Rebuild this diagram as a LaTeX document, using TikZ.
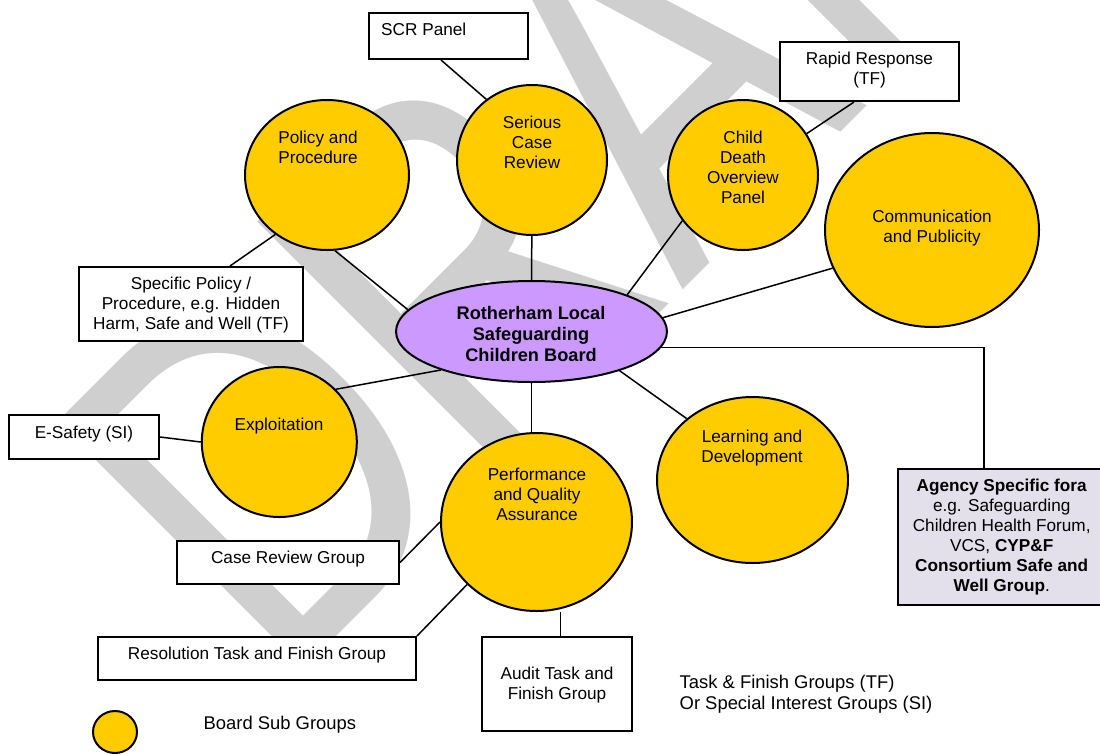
\documentclass[tikz,border=0pt]{standalone}
\usepackage{graphicx}
\usepackage{fontspec}
\setmainfont{Liberation Sans}
\usetikzlibrary{shapes.geometric}
\definecolor{subyellow}{HTML}{FFCC00}
\definecolor{boardpurple}{HTML}{CC99FF}
\definecolor{agencyfill}{HTML}{E3DFEB}
\definecolor{wmgray}{HTML}{CFCFCF}
\pgfdeclarelayer{wm}
\pgfdeclarelayer{edges}
\pgfsetlayers{wm,edges,main}
\tikzset{
  sub/.style 2 args={ellipse, draw=black, line width=2pt, fill=subyellow, minimum width=#1, minimum height=#2, inner sep=0pt},
  boardell/.style 2 args={ellipse, draw=black, line width=2pt, fill=boardpurple, minimum width=#1, minimum height=#2, inner sep=0pt},
  tbox/.style 2 args={rectangle, draw=black, line width=2pt, fill=white, minimum width=#1, minimum height=#2, inner sep=0pt},
  conn/.style={line width=1.5pt, draw=black},
  lbl/.style={anchor=north, inner sep=0pt, align=center, font=\fontsize{17.2}{20}\selectfont},
  lblleft/.style={anchor=north west, inner sep=0pt, align=left, font=\fontsize{18.4}{21}\selectfont},
  boldlbl/.style={anchor=north, inner sep=0pt, align=center, font=\fontsize{18.2}{21}\selectfont\bfseries}
}
\begin{document}
\begin{tikzpicture}[x=1pt, y=-1pt]
\useasboundingbox (0,0) rectangle (1100,753);
\begin{pgfonlayer}{wm}
  \fill[white] (0,0) rectangle (1100,753);
  \node[rotate=45, anchor=base west, inner sep=0pt, text=wmgray, font=\fontsize{507}{507}\selectfont] (wm) at (281,692) {\scalebox{0.775}[1]{DRAFT}};
\end{pgfonlayer}

% boxes
\node[tbox={159}{46}] (scr) at (448.5,36) {};
\node[tbox={224}{74}] (spec) at (191,304) {};
\node[tbox={179}{59}] (rapid) at (869.5,71.5) {};
\node[tbox={150}{44}] (esafety) at (84,437) {};
\node[tbox={222}{43}] (crg) at (288,562.5) {};
\node[tbox={318}{43}] (res) at (257,658.5) {};
\node[tbox={150}{94}] (audit) at (557,684) {};
\node[tbox={208.5}{136}, fill=agencyfill] (agency) at (1001.75,537) {};

% ellipses
\node[sub={164}{150}] (policy) at (327,175) {};
\node[sub={150}{150}] (serious) at (532,160) {};
\node[sub={150}{150}] (cdop) at (743,175) {};
\node[sub={214}{194}] (comm) at (932,230) {};
\node[boardell={271}{101}] (central) at (531.5,331.5) {};
\node[sub={155}{150}] (expl) at (279.3,442) {};
\node[sub={191}{178}] (pqa) at (536.5,522) {};
\node[sub={191}{166}] (learn) at (752.5,480) {};
\node[sub={44}{42}] (legend) at (115,732) {};

% connectors
\begin{pgfonlayer}{edges}
  \draw[conn] ([xshift=-7.5pt]scr.south) -- (serious.127);
  \draw[conn] (policy.229.5) -- ([xshift=39pt]spec.north);
  \draw[conn] (policy.276) -- (central.170);
  \draw[conn] (serious) -- (central);
  \draw[conn] ([xshift=-15.5pt]rapid.south) -- (cdop.33);
  \draw[conn] (cdop.217) -- (central.21);
  \draw[conn] (comm.201) -- (central.6);
  \draw[conn] (central.-7) -| ([xshift=-17.75pt]agency.north);
  \draw[conn] (central.203) -- (expl.43.5);
  \draw[conn] (esafety.east) -- (expl.west);
  \draw[conn] (central.south) -- (central.south |- pqa.north);
  \draw[conn] (central.-24.2) -- (learn.137.8);
  \draw[conn] (crg.east) -- (pqa.west);
  \draw[conn] (res.north east) -- (pqa.222.7);
  \draw[conn] ([xshift=3.5pt]audit.north) -- ([xshift=3.5pt]audit.north |- pqa.south);
\end{pgfonlayer}

% texts
\node[lblleft, font=\fontsize{17.2}{20}\selectfont] (tscr) at (381,21) {\strut SCR Panel};
\node[lbl] (tpolicy) at (318,129) {\strut Policy and\\Procedure};
\node[lbl] (tserious) at (532,114) {\strut Serious\\Case\\Review};
\node[lbl] (tcdop) at (743,129) {\strut Child\\Death\\Overview\\Panel};
\node[lbl] (tcomm) at (932,208) {\strut Communication\\and Publicity};
\node[boldlbl] (tcentral) at (531,305) {\strut Rotherham Local\\Safeguarding\\Children Board};
\node[lbl] (texpl) at (279,416) {\strut Exploitation};
\node[lbl] (tpqa) at (537,466) {\strut Performance\\and Quality\\Assurance};
\node[lbl] (tlearn) at (752,428) {\strut Learning and\\Development};
\node[lbl] (tspec) at (191,275) {\strut Specific Policy /\\Procedure, e.g. Hidden\\Harm, Safe and Well (TF)};
\node[lbl] (trapid) at (869.5,50) {\strut Rapid Response\\(TF)};
\node[lbl] (tesafety) at (84,424) {\strut E-Safety (SI)};
\node[lbl] (tcrg) at (288,549) {\strut Case Review Group};
\node[lbl] (tres) at (257,645) {\strut Resolution Task and Finish Group};
\node[lbl] (taudit) at (557,665) {\strut Audit Task and\\Finish Group};
\node[lbl] (tagency) at (1001.7,477) {\strut\textbf{Agency Specific fora}\\e.g. Safeguarding\\Children Health Forum,\\VCS, \textbf{CYP\&F}\\\textbf{Consortium Safe and}\\\textbf{Well Group}.};
\node[lblleft] (tlegend) at (203.5,715) {\strut Board Sub Groups};
\node[lblleft] (ttf) at (679.5,674) {\strut Task \& Finish Groups (TF)\\Or Special Interest Groups (SI)};
\end{tikzpicture}
\end{document}
